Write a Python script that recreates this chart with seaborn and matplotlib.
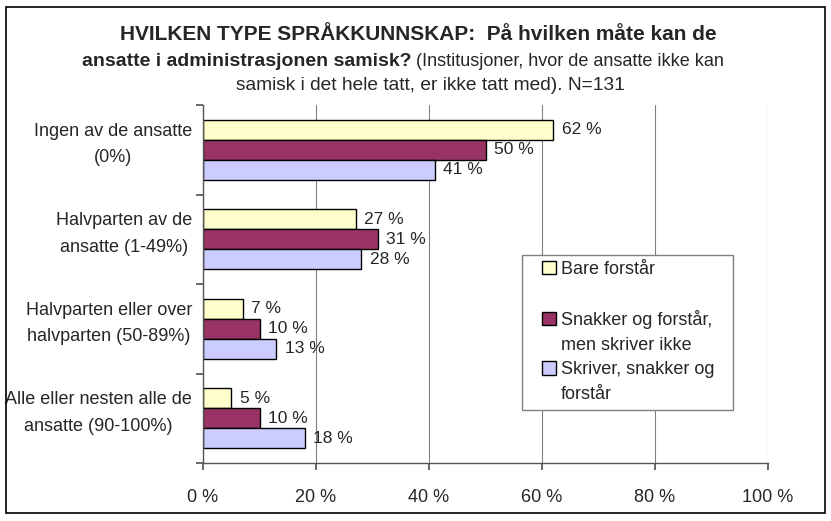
import pandas as pd
import matplotlib
matplotlib.use('Agg')
import matplotlib.pyplot as plt
import seaborn as sns
from matplotlib.patches import Rectangle, Patch

# data
categories = [
    'Ingen av de ansatte\n(0%)',
    'Halvparten av de\nansatte (1-49%)',
    'Halvparten eller over\nhalvparten (50-89%)',
    'Alle eller nesten alle de\nansatte (90-100%)',
]
series = [
    'Bare forstår',
    'Snakker og forstår, men skriver ikke',
    'Skriver, snakker og forstår',
]
# legend text as it wraps in the reference
legend_lines = [
    ['Bare forstår', ''],
    ['Snakker og forstår,', 'men skriver ikke'],
    ['Skriver, snakker og', 'forstår'],
]
bare_forstar = [62, 27, 7, 5]
snakker_forstar = [50, 31, 10, 10]
skriver_snakker = [41, 28, 13, 18]
colors = ['#FFFFCC', '#993366', '#CCCCFF']
x_ticks = [0, 20, 40, 60, 80, 100]

rows = []
for name, vals in zip(series, [bare_forstar, snakker_forstar, skriver_snakker]):
    for cat, v in zip(categories, vals):
        rows.append({'Kategori': cat, 'Serie': name, 'Prosent': v})
df = pd.DataFrame(rows)

sns.set_theme(style='white')
plt.rcParams['font.family'] = ['Liberation Sans', 'DejaVu Sans']

fig = plt.figure(figsize=(8.31, 5.21), dpi=100)
ax = fig.add_axes([203 / 831, 1 - 463 / 521, 565 / 831, 358 / 521])

sns.barplot(data=df, y='Kategori', x='Prosent', hue='Serie', order=categories,
            hue_order=series, palette=colors, orient='h', width=0.67,
            edgecolor='black', linewidth=1, saturation=1, ax=ax, legend=True)

for cont in ax.containers:
    ax.bar_label(cont, fmt='%.0f %%', padding=6, fontsize=12.5)

ax.set_xlim(0, 100)
ax.set_xticks(x_ticks)
ax.set_xticklabels([f'{t} %' for t in x_ticks], fontsize=13)
ax.set_ylim(len(categories) - 0.5, -0.5)
ax.set_yticks([i - 0.5 for i in range(len(categories) + 1)])
ax.set_yticklabels([])
for i, cat in enumerate(categories):
    ax.text(-11 / 565, i - 0.06, cat, transform=ax.get_yaxis_transform(),
            ha='right', va='center', fontsize=13, multialignment='center',
            linespacing=1.75)
ax.set_xlabel('')
ax.set_ylabel('')
ax.grid(axis='x', color='#808080', linewidth=0.8)
ax.set_axisbelow(True)
for side in ['top', 'right']:
    ax.spines[side].set_visible(False)
for side in ['left', 'bottom']:
    ax.spines[side].set_color('#555555')
    ax.spines[side].set_linewidth(1)
ax.tick_params(axis='x', direction='out', length=5, color='#555555', pad=14, bottom=True)
ax.tick_params(axis='y', direction='out', length=5, color='#555555', left=True)

# legend: one row per text line, box on the first line of each entry
handles, _ = ax.get_legend_handles_labels()
blank = Patch(facecolor='none', edgecolor='none')
leg_handles, leg_labels = [], []
for h, lines in zip(handles, legend_lines):
    leg_handles += [h, blank]
    leg_labels += lines
leg = ax.legend(leg_handles, leg_labels, loc='upper left',
                bbox_to_anchor=(542 / 831, 1 - 261 / 521), bbox_transform=fig.transFigure,
                fontsize=13, frameon=False, handlelength=0.75, handleheight=0.75,
                handletextpad=0.3, labelspacing=0.42, borderpad=0, borderaxespad=0)
leg.set_zorder(10)
# legend frame, drawn separately so the padding can match the reference
ax.add_patch(Rectangle((522 / 831, 1 - 410 / 521), 211 / 831, 155 / 521,
                       transform=fig.transFigure, clip_on=False, facecolor='white',
                       edgecolor='#808080', linewidth=1, zorder=4))

# title with bold and normal parts
fig.text(418 / 831, 1 - 34 / 521, 'HVILKEN TYPE SPRÅKKUNNSKAP:  På hvilken måte kan de',
         ha='center', va='center', fontsize=15, fontweight='bold')
fig.canvas.draw()
r = fig.canvas.get_renderer()
t_bold = fig.text(0, 1 - 61 / 521, 'ansatte i administrasjonen samisk? ',
                  ha='left', va='center', fontsize=14, fontweight='bold')
t_norm = fig.text(0, 1 - 61 / 521, '(Institusjoner, hvor de ansatte ikke kan',
                  ha='left', va='center', fontsize=13)
wb = t_bold.get_window_extent(r).width
wn = t_norm.get_window_extent(r).width
x0 = 403 - (wb + wn) / 2
t_bold.set_x(x0 / fig.bbox.width)
t_norm.set_x((x0 + wb) / fig.bbox.width)
fig.text(430 / 831, 1 - 85 / 521, 'samisk i det hele tatt, er ikke tatt med). N=131',
         ha='center', va='center', fontsize=13.8)

fig.patches.append(Rectangle((6 / 831, 1 - 513 / 521), 819 / 831, 506 / 521,
                             transform=fig.transFigure, fill=False,
                             edgecolor='black', linewidth=1.2))

fig.savefig('out.png', dpi=100)
